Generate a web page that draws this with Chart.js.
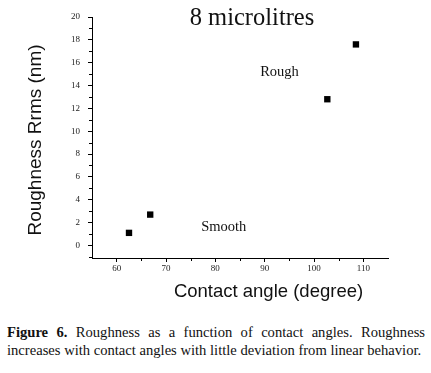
<!DOCTYPE html>
<html>
<head>
<meta charset="utf-8">
<script src="https://cdn.jsdelivr.net/npm/chart.js@4"></script>
<style>
  html,body{margin:0;padding:0;background:#fff;}
  #wrap{position:relative;width:431px;height:373px;overflow:hidden;}
  #c{position:absolute;left:0;top:0;}
  #cap{position:absolute;left:7px;top:323px;width:418px;font-family:"Liberation Serif","Times New Roman",serif;font-size:14.6px;line-height:18px;color:#111;}
  #cap .l1{text-align:justify;text-align-last:justify;white-space:nowrap;}
  #cap .l2{white-space:nowrap;}
</style>
</head>
<body>
<div id="wrap">
<canvas id="c" width="431" height="310"></canvas>
<div id="cap"><div class="l1"><b>Figure 6.</b> Roughness as a function of contact angles. Roughness</div><div class="l2">increases with contact angles with little deviation from linear behavior.</div></div>
</div>
<script>
const contactAngle = [62.5, 66.8, 102.7, 108.5];
const roughness = [1.1, 2.7, 12.8, 17.6];
const xTicks = [60, 70, 80, 90, 100, 110];
const yTicks = [0, 2, 4, 6, 8, 10, 12, 14, 16, 18, 20];
const xMinor = [65, 75, 85, 95, 105];
const yMinor = [-1, 1, 3, 5, 7, 9, 11, 13, 15, 17, 19];
const chartTitle = "8 microlitres";
const xTitle = "Contact angle (degree)";
const yTitle = "Roughness Rrms (nm)";
const notes = [{text: "Rough", x: 93, y: 15.2}, {text: "Smooth", x: 81.7, y: 1.6}];

const textPlugin = {
  id: 'texts',
  afterDraw(chart) {
    const ctx = chart.ctx;
    const xs = chart.scales.x, ys = chart.scales.y;
    ctx.save();
    // minor ticks
    ctx.strokeStyle = '#000';
    ctx.lineWidth = 1;
    ctx.beginPath();
    xMinor.forEach(v => {
      const px = Math.round(xs.getPixelForValue(v)) + 0.5;
      ctx.moveTo(px, xs.top);
      ctx.lineTo(px, xs.top + 3);
    });
    yMinor.forEach(v => {
      const py = Math.round(ys.getPixelForValue(v)) + 0.5;
      ctx.moveTo(ys.right, py);
      ctx.lineTo(ys.right - 3, py);
    });
    ctx.stroke();
    ctx.fillStyle = '#111';
    ctx.textAlign = 'center';
    ctx.textBaseline = 'middle';
    // chart title
    ctx.font = '24.5px "Liberation Serif", serif';
    ctx.fillText(chartTitle, 252, 19);
    // notes
    ctx.font = '14.5px "Liberation Serif", serif';
    notes.forEach(n => ctx.fillText(n.text, xs.getPixelForValue(n.x), ys.getPixelForValue(n.y)));
    // axis titles
    ctx.font = '18.5px "Liberation Sans", Arial, sans-serif';
    ctx.fillText(xTitle, 268.5, 292);
    ctx.save();
    ctx.translate(36, 140);
    ctx.rotate(-Math.PI / 2);
    ctx.font = '19px "Liberation Sans", Arial, sans-serif';
    ctx.fillText(yTitle, 0, 0);
    ctx.restore();
    ctx.restore();
  }
};

new Chart(document.getElementById('c'), {
  type: 'scatter',
  data: {
    datasets: [{
      data: contactAngle.map((x, i) => ({x: x, y: roughness[i]})),
      pointStyle: 'rect',
      radius: 4.5,
      hoverRadius: 4.5,
      backgroundColor: '#000',
      borderColor: '#000',
      borderWidth: 0
    }]
  },
  options: {
    responsive: false,
    animation: false,
    events: [],
    layout: {padding: {top: 17, right: 43, left: 0, bottom: 0}},
    plugins: {legend: {display: false}, tooltip: {enabled: false}, title: {display: false}},
    scales: {
      x: {
        type: 'linear',
        min: 55, max: 115,
        afterFit(s) { s.height = 52; },
        afterBuildTicks(s) { s.ticks = xTicks.map(v => ({value: v})); },
        border: {display: true, color: '#000', width: 1},
        grid: {drawOnChartArea: false, drawTicks: true, tickLength: 4, color: '#000'},
        ticks: {padding: 1, color: '#222', font: {family: '"Liberation Serif", serif', size: 9}, maxRotation: 0, autoSkip: false}
      },
      y: {
        type: 'linear',
        min: -1.1, max: 20,
        afterFit(s) { s.width = 92; },
        afterBuildTicks(s) { s.ticks = yTicks.map(v => ({value: v})); },
        border: {display: true, color: '#000', width: 1},
        grid: {drawOnChartArea: false, drawTicks: true, tickLength: 4, color: '#000'},
        ticks: {padding: 8, color: '#222', font: {family: '"Liberation Serif", serif', size: 9}, autoSkip: false}
      }
    }
  },
  plugins: [textPlugin]
});
</script>
</body>
</html>
